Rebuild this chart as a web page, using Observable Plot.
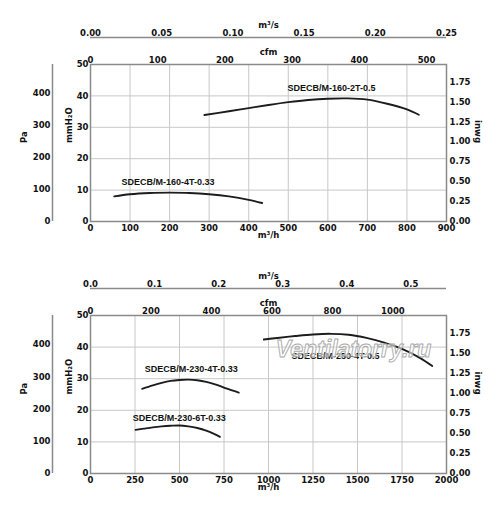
<!DOCTYPE html>
<html>
<head>
<meta charset="utf-8">
<script src="https://cdn.jsdelivr.net/npm/d3@7"></script>
<script src="https://cdn.jsdelivr.net/npm/@observablehq/plot@0.6"></script>
<style>
  html, body { margin: 0; padding: 0; background: #fff; }
  #root { position: relative; width: 500px; height: 510px; overflow: hidden; }
  .panel { position: absolute; left: 0; width: 500px; height: 256px; }
</style>
</head>
<body>
<div id="root"></div>
<script>
// ---- unit conversions
const M3H_PER_CFM = 1.69901;
const PA_PER_MM = 9.80665;
const MM_PER_INWG = 25.4;

// ---- shared tick labels
const ticksMm = [0, 10, 20, 30, 40, 50];
const ticksPa = [0, 100, 200, 300, 400];
const ticksInwg = [0, 0.25, 0.5, 0.75, 1.0, 1.25, 1.5, 1.75];

// ---- panel 1 (top)
const p1MaxM3h = 900;
const p1TicksM3h = [0, 100, 200, 300, 400, 500, 600, 700, 800, 900];
const p1TicksM3s = [0, 0.05, 0.10, 0.15, 0.20, 0.25];
const p1TicksCfm = [0, 100, 200, 300, 400, 500];

const c160_4T_name = "SDECB/M-160-4T-0.33";
const c160_4T_x = [60, 100, 150, 200, 250, 300, 350, 400, 434];
const c160_4T_y = [8.0, 8.7, 9.1, 9.2, 9.1, 8.7, 8.0, 6.9, 5.9];
const c160_4T_label = [196, 12.5];

const c160_2T_name = "SDECB/M-160-2T-0.5";
const c160_2T_x = [288, 350, 400, 450, 500, 550, 600, 650, 700, 750, 800, 830];
const c160_2T_y = [33.9, 35.1, 36.1, 37.1, 38.0, 38.7, 39.1, 39.2, 38.8, 37.5, 35.7, 34.0];
const c160_2T_label = [609, 42.6];

// ---- panel 2 (bottom)
const p2MaxM3h = 2000;
const p2TicksM3h = [0, 250, 500, 750, 1000, 1250, 1500, 1750, 2000];
const p2TicksM3s = [0, 0.1, 0.2, 0.3, 0.4, 0.5];
const p2TicksCfm = [0, 200, 400, 600, 800, 1000];

const c230_4T_name = "SDECB/M-230-4T-0.33";
const c230_4T_x = [290, 350, 400, 450, 500, 550, 600, 650, 700, 750, 800, 833];
const c230_4T_y = [26.8, 27.9, 28.7, 29.3, 29.6, 29.7, 29.5, 29.0, 28.2, 27.2, 26.2, 25.6];
const c230_4T_label = [566, 32.9];

const c230_6T_name = "SDECB/M-230-6T-0.33";
const c230_6T_x = [253, 300, 350, 400, 450, 500, 550, 600, 650, 700, 727];
const c230_6T_y = [13.8, 14.2, 14.6, 14.9, 15.1, 15.2, 14.9, 14.4, 13.6, 12.4, 11.6];
const c230_6T_label = [498, 17.6];

const c250_4T_name = "SDECB/M-250-4T-0.5";
const c250_4T_x = [974, 1050, 1150, 1250, 1350, 1450, 1550, 1650, 1750, 1850, 1920];
const c250_4T_y = [42.4, 42.9, 43.5, 44.0, 44.2, 43.9, 42.9, 41.4, 39.4, 36.6, 34.0];
const c250_4T_label = [1376, 37.3];

const watermark = "Ventilatorry.ru";
const watermarkPos = [1478, 39.2];

// ---- styling constants
const AXIS = "#8a8a8a";
const GRID = "#c8c8c8";
const CURVE = "#1c1c1c";

function series(xs, ys) { return xs.map((x, i) => ({x, y: ys[i]})); }

function layer(parent, opts) {
  const svg = Plot.plot({
    width: 500, height: 256,
    marginLeft: 90, marginRight: 54, marginTop: 64, marginBottom: 35,
    ...opts,
    style: {
      background: "transparent", position: "absolute", left: "0px", top: "0px",
      fontFamily: "'DejaVu Sans', sans-serif", fontWeight: "bold", fontSize: "8.5px",
      color: "#111", overflow: "visible"
    }
  });
  parent.appendChild(svg);
}

function curveMarks(curves) {
  const marks = [];
  for (const c of curves) {
    marks.push(Plot.line(series(c.x, c.y), {x: "x", y: "y", curve: "catmull-rom", stroke: CURVE, strokeWidth: 1.9}));
  }
  for (const c of curves) {
    marks.push(Plot.text([c.name], {x: () => c.label[0], y: () => c.label[1], text: d => d,
      fontFamily: "'Liberation Sans', Arial, sans-serif", fontWeight: "bold", fontSize: 9, fill: "#111"}));
  }
  return marks;
}

const intFmt = d3.format("d");

function panel(top, cfg) {
  const root = document.getElementById("root");
  const div = document.createElement("div");
  div.className = "panel";
  div.style.top = top + "px";
  root.appendChild(div);
  const mb = cfg.marginBottom;
  const xMax = cfg.maxM3h;

  const extra = [];
  if (cfg.watermark) {
    extra.push(Plot.text([cfg.watermark], {x: () => cfg.watermarkPos[0], y: () => cfg.watermarkPos[1], text: d => d,
      fontFamily: "'Liberation Sans', Arial, sans-serif", fontWeight: "bold", fontStyle: "italic", fontSize: 23,
      fill: "white", fillOpacity: 0.55, stroke: "#a8a8a8", strokeWidth: 0.9, paintOrder: "normal"}));
  }
  // main layer: grid, frame, curves, m3/h and mmH2O axes
  layer(div, {
    marginBottom: mb,
    x: {domain: [0, xMax], axis: null, label: null},
    y: {domain: [0, 50], axis: null, label: null},
    marks: [
      Plot.gridX(cfg.ticksM3h, {stroke: GRID, strokeOpacity: 1, strokeWidth: 1}),
      Plot.gridY(ticksMm, {stroke: GRID, strokeOpacity: 1, strokeWidth: 1}),
      Plot.frame({stroke: AXIS, strokeWidth: 1.5}),
      ...curveMarks(cfg.curves),
      ...extra,
      Plot.axisX(cfg.ticksM3h, {anchor: "bottom", tickSize: 0, tickPadding: 3, label: null, tickFormat: intFmt}),
      Plot.axisY(ticksMm, {anchor: "left", tickSize: 0, tickPadding: 2, label: null, tickFormat: intFmt}),
      Plot.text(["m³/h"], {text: d => d, frameAnchor: "bottom", dy: 16}),
      Plot.text(["mmH₂O"], {text: d => d, frameAnchor: "left", dx: -21, rotate: -90})
    ]
  });

  // cfm axis (top of frame)
  layer(div, {
    marginBottom: mb,
    x: {domain: [0, xMax / M3H_PER_CFM], axis: null, label: null},
    y: {domain: [0, 1], axis: null, label: null},
    marks: [
      Plot.axisX(cfg.ticksCfm, {anchor: "top", tickSize: 0, tickPadding: 2, label: null, tickFormat: intFmt}),
      Plot.text(["cfm"], {text: d => d, frameAnchor: "top", dy: -16})
    ]
  });

  // m3/s axis (above)
  layer(div, {
    marginTop: 37, marginBottom: mb,
    x: {domain: [0, xMax / 3600], axis: null, label: null},
    y: {domain: [0, 1], axis: null, label: null},
    marks: [
      Plot.ruleY([1], {stroke: AXIS, strokeWidth: 1.5}),
      Plot.axisX(cfg.ticksM3s, {anchor: "top", tickSize: 0, tickPadding: 2, label: null, tickFormat: d3.format(cfg.m3sFormat)}),
      Plot.text(["m³/s"], {text: d => d, frameAnchor: "top", dy: -16})
    ]
  });

  // Pa axis (far left)
  layer(div, {
    marginLeft: 52, marginBottom: mb,
    x: {domain: [0, 1], axis: null, label: null},
    y: {domain: [0, 50 * PA_PER_MM], axis: null, label: null},
    marks: [
      Plot.ruleX([0], {stroke: AXIS, strokeWidth: 1.5}),
      Plot.axisY(ticksPa, {anchor: "left", tickSize: 0, tickPadding: 2, label: null, tickFormat: intFmt}),
      Plot.text(["Pa"], {text: d => d, frameAnchor: "left", dx: -28, rotate: -90})
    ]
  });

  // inwg axis (right)
  layer(div, {
    marginBottom: mb,
    x: {domain: [0, 1], axis: null, label: null},
    y: {domain: [0, 50 / MM_PER_INWG], axis: null, label: null},
    marks: [
      Plot.axisY(ticksInwg, {anchor: "right", tickSize: 0, tickPadding: 3, label: null, tickFormat: d3.format(".2f")}),
      Plot.text(["inwg"], {text: d => d, frameAnchor: "right", dx: 31, rotate: 90})
    ]
  });
}

panel(0, {
  marginBottom: 35,
  maxM3h: p1MaxM3h,
  ticksM3h: p1TicksM3h, ticksCfm: p1TicksCfm, ticksM3s: p1TicksM3s, m3sFormat: ".2f",
  curves: [
    {name: c160_4T_name, x: c160_4T_x, y: c160_4T_y, label: c160_4T_label},
    {name: c160_2T_name, x: c160_2T_x, y: c160_2T_y, label: c160_2T_label}
  ]
});

panel(251, {
  marginBottom: 34,
  maxM3h: p2MaxM3h,
  ticksM3h: p2TicksM3h, ticksCfm: p2TicksCfm, ticksM3s: p2TicksM3s, m3sFormat: ".1f",
  watermark: watermark, watermarkPos: watermarkPos,
  curves: [
    {name: c230_4T_name, x: c230_4T_x, y: c230_4T_y, label: c230_4T_label},
    {name: c230_6T_name, x: c230_6T_x, y: c230_6T_y, label: c230_6T_label},
    {name: c250_4T_name, x: c250_4T_x, y: c250_4T_y, label: c250_4T_label}
  ]
});
</script>
</body>
</html>
